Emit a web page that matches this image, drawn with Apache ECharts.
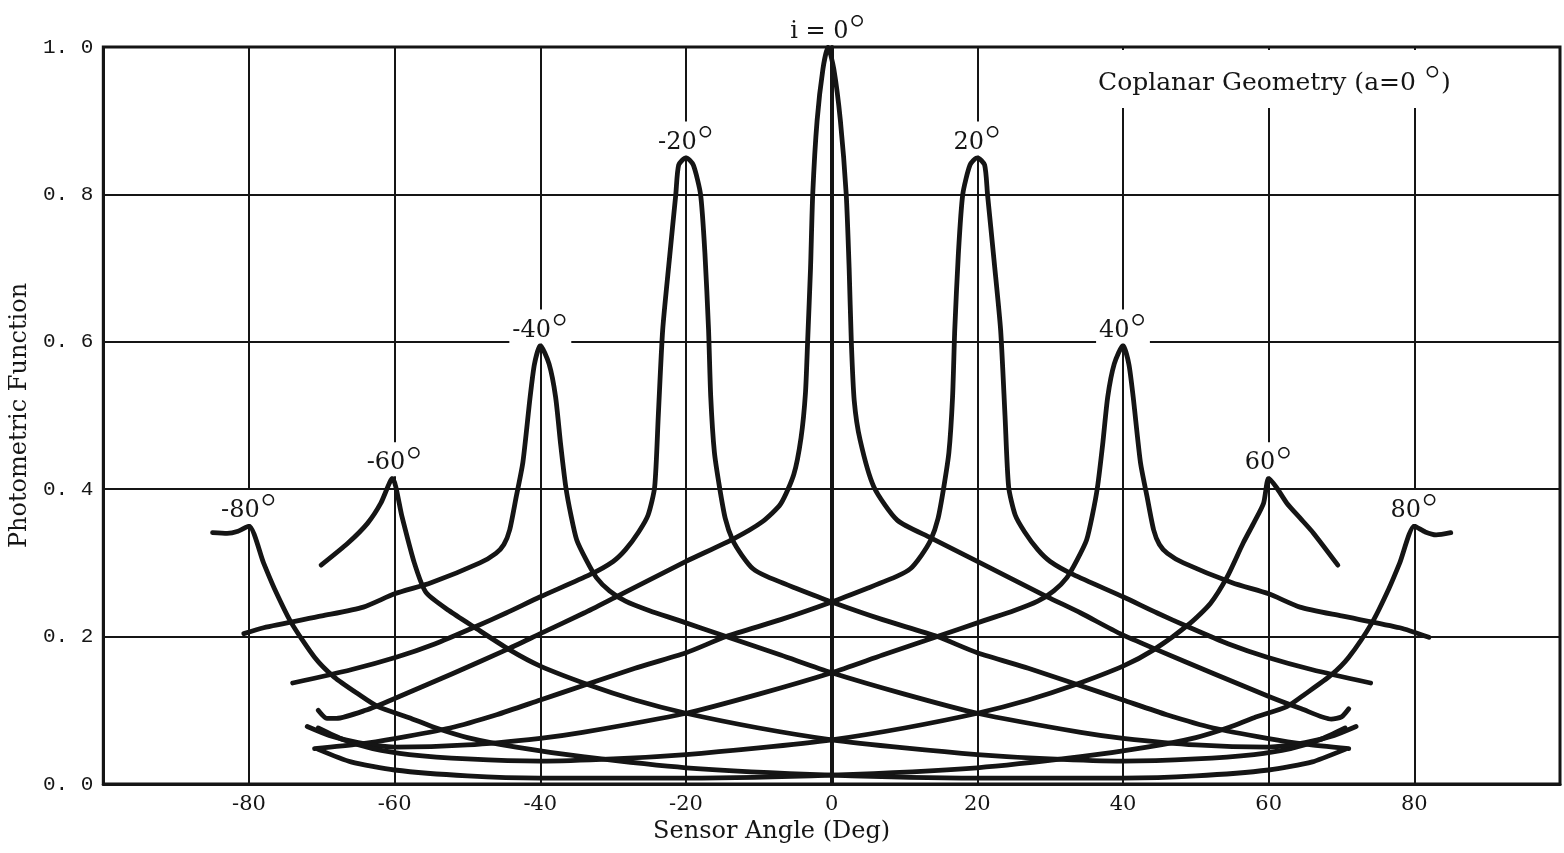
<!DOCTYPE html>
<html><head><meta charset="utf-8">
<script src="https://cdn.jsdelivr.net/npm/echarts@6/dist/echarts.min.js"></script>
<style>html,body{margin:0;padding:0;background:#fff}#c{width:1564px;height:853px}</style>
</head><body><div id="c"></div>
<script>
// ---- tick labels ----
const xTickValues = [-80, -60, -40, -20, 0, 20, 40, 60, 80];
const yTickLabels = ['0. 0', '0. 2', '0. 4', '0. 6', '0. 8', '1. 0'];

// ---- peak labels (incidence angle i) ----
const peakTexts = ['-80', '-60', '-40', '-20', 'i = 0', '20', '40', '60', '80'];
const peakX = [-80, -60, -40, -20, -0.5, 20, 40, 60, 80];
const peakY = [0.35, 0.415, 0.595, 0.85, 1.0, 0.85, 0.595, 0.415, 0.35];

// ---- curves: [sensor angle, photometric function] ----
const curveM80 = [[-85,0.341],[-83,0.340],[-81.5,0.343],[-80,0.350],[-78,0.300],[-76.5,0.265],[-74.2,0.219],[-71,0.172],[-68.3,0.145],[-65,0.122],[-62.3,0.105],[-58,0.090],[-54.6,0.077],[-50,0.063],[-43.3,0.050],[-34.2,0.037],[-20,0.022],[0,0.012],[20,0.008],[40,0.008],[50,0.011],[60,0.019],[66,0.030],[70.5,0.047]];
const curveM60 = [[-70.1,0.297],[-66.4,0.327],[-63.7,0.354],[-61.9,0.381],[-60.3,0.415],[-59,0.363],[-57.3,0.300],[-55.7,0.260],[-52.5,0.235],[-49.1,0.213],[-44.2,0.182],[-40,0.160],[-33.2,0.134],[-27,0.114],[-20,0.096],[-10,0.076],[0,0.060],[10,0.049],[20,0.040],[30,0.034],[40,0.031],[50,0.034],[58,0.040],[63,0.048],[67,0.060],[70.5,0.076]];
const curveM40 = [[-80.7,0.204],[-78,0.212],[-70,0.228],[-64.3,0.240],[-60,0.258],[-55,0.273],[-48.3,0.300],[-46.1,0.313],[-45,0.325],[-44.2,0.345],[-43.3,0.390],[-42.4,0.436],[-41.4,0.525],[-40.8,0.570],[-40,0.595],[-38.8,0.570],[-37.9,0.525],[-37.2,0.460],[-36.5,0.403],[-35.8,0.365],[-35,0.331],[-33.7,0.304],[-32.3,0.280],[-30.5,0.262],[-28.3,0.248],[-25,0.235],[-21,0.222],[-14.5,0.200],[-7,0.175],[0,0.151],[10,0.122],[20,0.096],[34.2,0.070],[40,0.062],[50,0.053],[60,0.050],[65,0.056],[69,0.066],[72,0.078]];
const curveM20 = [[-74,0.137],[-66,0.155],[-59.8,0.172],[-54.5,0.190],[-49,0.213],[-44.7,0.232],[-40,0.254],[-33.2,0.284],[-30,0.302],[-28.3,0.318],[-26.5,0.342],[-25.2,0.365],[-24.3,0.403],[-23.8,0.500],[-23.2,0.616],[-22.3,0.710],[-21.4,0.800],[-21,0.840],[-20,0.850],[-19,0.840],[-18,0.800],[-17.4,0.720],[-16.9,0.616],[-16.6,0.525],[-16.1,0.450],[-15.4,0.403],[-14.6,0.360],[-13.6,0.331],[-12.3,0.310],[-10.8,0.292],[-9,0.282],[-5,0.266],[0,0.247],[7,0.223],[14.5,0.200],[20,0.178],[27,0.157],[34,0.134],[40,0.114],[46,0.094],[52.4,0.076],[59.8,0.062],[65,0.054],[71,0.048]];
const curve0 = [[-70.5,0.100],[-69.3,0.089],[-68,0.089],[-64,0.100],[-60,0.116],[-52,0.150],[-44.7,0.182],[-40,0.204],[-34,0.232],[-29.6,0.254],[-20,0.302],[-13.6,0.332],[-9.5,0.356],[-7,0.380],[-5.2,0.420],[-4.2,0.470],[-3.6,0.530],[-3.3,0.600],[-2.9,0.700],[-2.6,0.800],[-2,0.900],[-1.2,0.970],[-0.5,1.000],[0.3,0.970],[1.2,0.900],[2.0,0.800],[2.4,0.700],[2.7,0.600],[3.1,0.520],[3.9,0.467],[5.8,0.403],[9,0.358],[13.6,0.334],[20,0.302],[29.6,0.254],[34.2,0.232],[39.6,0.204],[44.7,0.182],[52.4,0.150],[60.2,0.118],[64.5,0.102],[68.6,0.088],[70,0.091],[71,0.102]];
const curveP20 = [[-71,0.048],[-65,0.054],[-59.8,0.062],[-52.4,0.076],[-46,0.094],[-40,0.114],[-34,0.134],[-27,0.157],[-20,0.178],[-14.5,0.200],[-7,0.223],[0,0.247],[5,0.266],[9,0.282],[10.8,0.292],[12.3,0.310],[13.6,0.331],[14.6,0.360],[15.4,0.403],[16.1,0.450],[16.6,0.525],[16.9,0.616],[17.4,0.720],[18.0,0.800],[19,0.840],[20,0.850],[21,0.840],[21.4,0.800],[22.3,0.710],[23.2,0.616],[23.8,0.500],[24.3,0.403],[25.2,0.365],[26.5,0.342],[28.3,0.318],[30,0.302],[33.2,0.284],[40,0.254],[44.7,0.232],[49,0.213],[54.5,0.190],[59.8,0.172],[66,0.155],[74,0.137]];
const curveP40 = [[-72,0.078],[-69,0.066],[-65,0.056],[-60,0.050],[-50,0.053],[-40,0.062],[-34.2,0.070],[-20,0.096],[-10,0.122],[0,0.151],[7,0.175],[14.5,0.200],[21,0.222],[25,0.235],[28.3,0.248],[30.5,0.262],[32.3,0.280],[33.7,0.304],[35,0.331],[35.8,0.365],[36.5,0.403],[37.2,0.460],[37.9,0.525],[38.8,0.570],[40,0.595],[40.8,0.570],[41.4,0.525],[42.4,0.436],[43.3,0.390],[44.2,0.345],[45,0.325],[46.1,0.313],[48.3,0.300],[55,0.273],[60,0.258],[64.3,0.240],[70,0.228],[78,0.212],[82,0.199]];
const curveP60 = [[-70.5,0.076],[-67,0.060],[-63,0.048],[-58,0.040],[-50,0.034],[-40,0.031],[-30,0.034],[-20,0.040],[-10,0.049],[0,0.060],[10,0.076],[20,0.096],[27,0.114],[33.2,0.134],[40,0.160],[44.2,0.182],[49.2,0.218],[52,0.245],[54.3,0.281],[56.5,0.327],[58,0.355],[59.3,0.381],[60,0.415],[61.1,0.402],[62.5,0.381],[64.3,0.361],[66.1,0.341],[69.5,0.297]];
const curveP80 = [[-70.5,0.047],[-66,0.030],[-60,0.019],[-50,0.011],[-40,0.008],[-20,0.008],[0,0.012],[20,0.022],[34.2,0.037],[43.3,0.050],[50,0.063],[54.6,0.077],[58,0.090],[62.5,0.105],[65,0.122],[68.6,0.148],[71,0.172],[74.2,0.219],[76.5,0.265],[78,0.300],[80,0.350],[81.5,0.342],[83,0.338],[85,0.341]];

const curveNames = ['i=-80','i=-60','i=-40','i=-20','i=0','i=20','i=40','i=60','i=80'];
const curveData = [curveM80, curveM60, curveM40, curveM20, curve0, curveP20, curveP40, curveP60, curveP80];

const serif = 'DejaVu Serif';
const ink = '#151515';

const chart = echarts.init(document.getElementById('c'), null, {renderer: 'canvas'});

const lineSeries = curveData.map((d, k) => ({
  name: curveNames[k],
  type: 'line',
  data: d,
  showSymbol: false,
  smooth: 0.22,
  lineStyle: {color: ink, width: 4.8, cap: 'round', join: 'round'},
  z: 3,
  silent: true,
  animation: false
}));

const labelSeries = {
  type: 'scatter',
  symbolSize: 0,
  silent: true,
  animation: false,
  z: 6,
  itemStyle: {opacity: 1},
  data: peakX.map((x, k) => ({value: [x, peakY[k]], name: peakTexts[k]})),
  label: {
    show: true,
    position: 'top',
    distance: 2,
    color: ink,
    formatter: p => '{n|' + p.name + '}{s|°}',
    backgroundColor: '#fff',
    padding: [8, 3, 0, 3],
    rich: {
      n: {fontFamily: serif, fontSize: 24, color: ink, lineHeight: 26},
      s: {fontFamily: 'Inter', fontWeight: 200, fontSize: 38, color: ink, lineHeight: 26}
    }
  }
};

chart.setOption({
  animation: false,
  backgroundColor: '#fff',
  title: {
    text: '{t|Coplanar Geometry (a=0 }{s|°}{t|)}',
    left: 1088,
    top: 53,
    backgroundColor: '#fff',
    padding: [14, 10, 6, 10],
    textStyle: {
      rich: {
        t: {fontFamily: serif, fontSize: 25, fontWeight: 'normal', color: ink, lineHeight: 32},
        s: {fontFamily: 'Inter', fontSize: 38, fontWeight: 200, color: ink, lineHeight: 32}
      }
    }
  },
  grid: {left: 102, right: 4, top: 47, bottom: 69, show: true, borderColor: ink, borderWidth: 3, backgroundColor: 'transparent'},
  xAxis: {
    type: 'value', min: -100, max: 100, interval: 20,
    name: 'Sensor Angle (Deg)', nameLocation: 'middle', nameGap: 36,
    nameTextStyle: {fontFamily: serif, fontSize: 24, color: ink, padding: [0, 120, 0, 0]},
    axisLine: {show: true, onZero: false, lineStyle: {color: ink, width: 3}},
    axisTick: {show: false},
    axisLabel: {
      margin: 10, fontFamily: serif, fontSize: 21, color: ink,
      formatter: v => xTickValues.indexOf(v) >= 0 ? String(v) : ''
    },
    splitLine: {show: true, lineStyle: {color: ink, width: 2}}
  },
  yAxis: {
    type: 'value', min: 0, max: 1, interval: 0.2,
    name: 'Photometric Function', nameLocation: 'middle', nameGap: 68, nameRotate: 90,
    nameTextStyle: {fontFamily: serif, fontSize: 24, color: ink},
    axisLine: {show: true, lineStyle: {color: ink, width: 4}},
    axisTick: {show: false},
    axisLabel: {
      margin: 10, fontFamily: 'Liberation Mono', fontSize: 21, color: ink,
      formatter: v => yTickLabels[Math.round(v / 0.2)]
    },
    splitLine: {show: true, lineStyle: {color: ink, width: 2}}
  },
  series: lineSeries.concat([labelSeries])
});
</script></body></html>
